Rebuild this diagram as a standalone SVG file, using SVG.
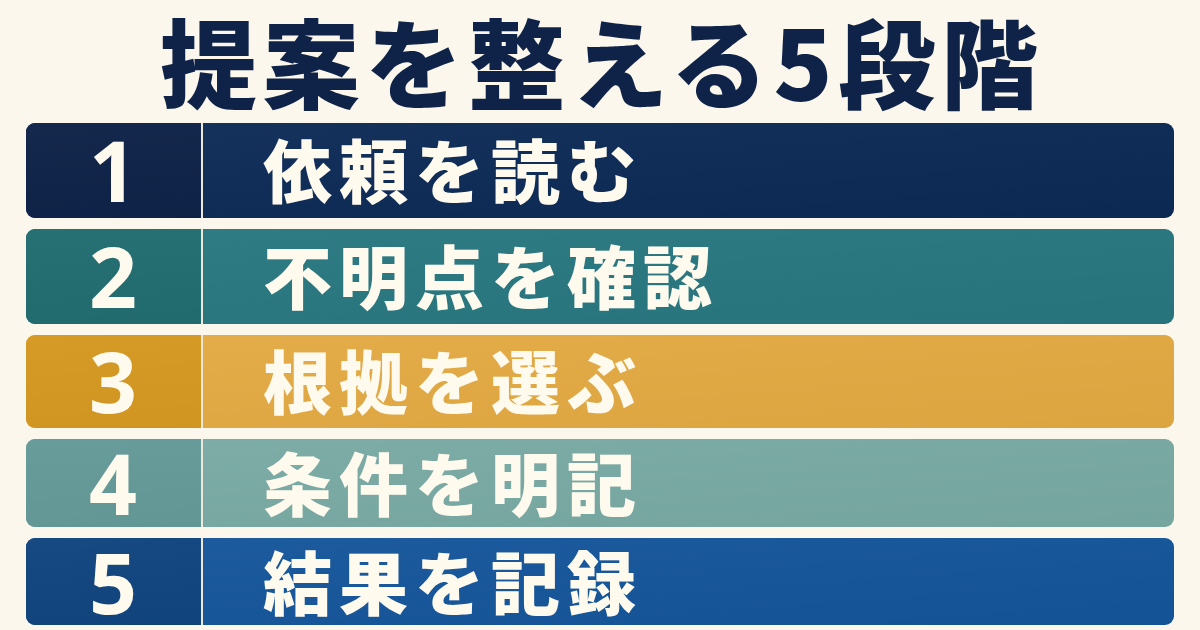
<svg xmlns="http://www.w3.org/2000/svg" width="1200" height="630" viewBox="0 0 1200 630">
<style>
.title{font-family:"Noto Sans CJK JP","Noto Sans",sans-serif;font-weight:900;font-size:97px;fill:#0F2247}
.num{font-family:"Noto Sans","Liberation Sans",sans-serif;font-weight:700;font-size:84px;fill:#FFFAEE;text-anchor:middle}
.lbl{font-family:"Noto Sans CJK JP",sans-serif;font-weight:900;font-size:69px;fill:#FFFAEE;letter-spacing:7px}
.div{stroke:#EDE8DA;stroke-width:2}
</style>
<defs>
<linearGradient id="shade" x1="0" y1="0" x2="1" y2="1">
<stop offset="0" stop-color="#ffffff" stop-opacity="0.04"/>
<stop offset="1" stop-color="#000000" stop-opacity="0.03"/>
</linearGradient>
</defs>
<rect width="1200" height="630" fill="#FBF7EC"/>
<text class="title" x="160" y="101" textLength="878" lengthAdjust="spacing">提案を整える5段階</text>

<g id="step1">
<rect x="26" y="123" width="1148" height="95" rx="9" fill="#0C2A56"/>
<path d="M35 123H201V218H35A9 9 0 0 1 26 209V132A9 9 0 0 1 35 123Z" fill="#0B1F45"/>
<rect x="26" y="123" width="1148" height="95" rx="9" fill="url(#shade)"/>
<line class="div" x1="202" y1="123" x2="202" y2="218"/>
<text class="num" x="113" y="202">1</text>
<text class="lbl" x="263" y="198">依頼を読む</text>
</g>

<g id="step2">
<rect x="26" y="229" width="1148" height="95" rx="9" fill="#287780"/>
<path d="M35 229H201V324H35A9 9 0 0 1 26 315V238A9 9 0 0 1 35 229Z" fill="#1E6A6E"/>
<rect x="26" y="229" width="1148" height="95" rx="9" fill="url(#shade)"/>
<line class="div" x1="202" y1="229" x2="202" y2="324"/>
<text class="num" x="113" y="308">2</text>
<text class="lbl" x="263" y="304">不明点を確認</text>
</g>

<g id="step3">
<rect x="26" y="335" width="1148" height="93" rx="9" fill="#E3AA42"/>
<path d="M35 335H201V428H35A9 9 0 0 1 26 419V344A9 9 0 0 1 35 335Z" fill="#D4961E"/>
<rect x="26" y="335" width="1148" height="93" rx="9" fill="url(#shade)"/>
<line class="div" x1="202" y1="335" x2="202" y2="428"/>
<text class="num" x="113" y="413">3</text>
<text class="lbl" x="263" y="409">根拠を選ぶ</text>
</g>

<g id="step4">
<rect x="26" y="439" width="1148" height="88" rx="9" fill="#79AAA4"/>
<path d="M35 439H201V527H35A9 9 0 0 1 26 518V448A9 9 0 0 1 35 439Z" fill="#629896"/>
<rect x="26" y="439" width="1148" height="88" rx="9" fill="url(#shade)"/>
<line class="div" x1="202" y1="439" x2="202" y2="527"/>
<text class="num" x="113" y="515">4</text>
<text class="lbl" x="263" y="511">条件を明記</text>
</g>

<g id="step5">
<rect x="26" y="538" width="1148" height="87" rx="9" fill="#14559A"/>
<path d="M35 538H201V625H35A9 9 0 0 1 26 616V547A9 9 0 0 1 35 538Z" fill="#0D427C"/>
<rect x="26" y="538" width="1148" height="87" rx="9" fill="url(#shade)"/>
<line class="div" x1="202" y1="538" x2="202" y2="625"/>
<text class="num" x="113" y="614">5</text>
<text class="lbl" x="263" y="610">結果を記録</text>
</g>

<g id="connectors"></g>
</svg>
